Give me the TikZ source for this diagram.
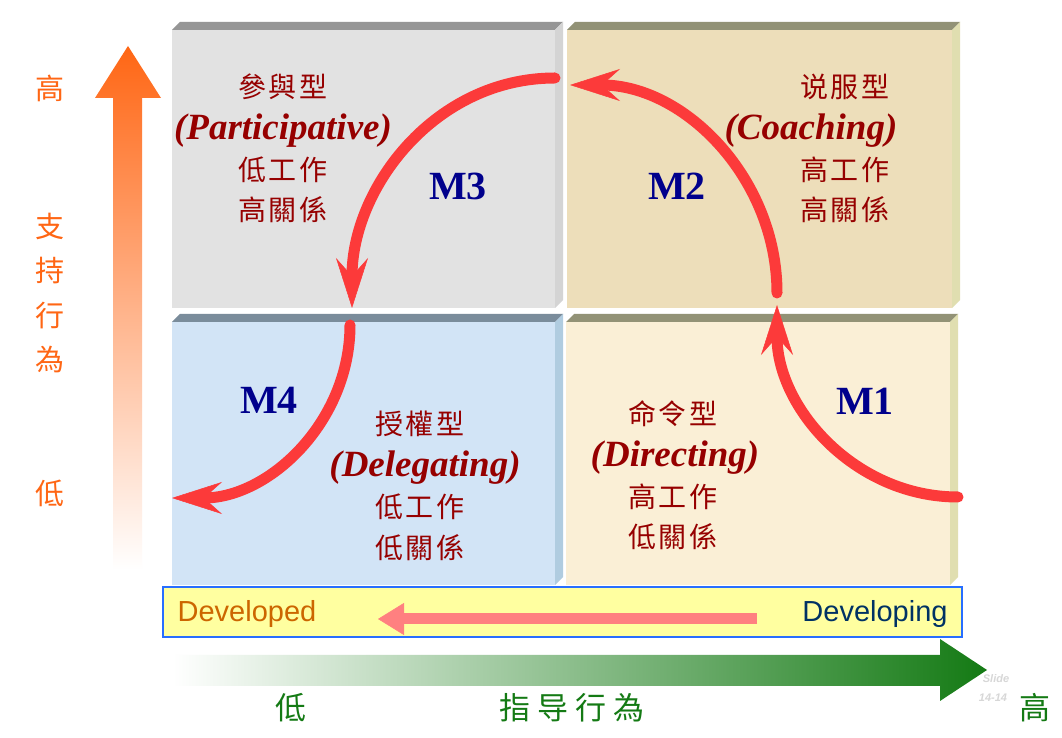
\documentclass[tikz,border=0pt]{standalone}
\usepackage{fontspec}
\setmainfont{Liberation Serif}
\newfontfamily\cjk[LetterSpace=10]{Noto Sans CJK TC}
\newfontfamily\cjkwide[LetterSpace=22]{Noto Sans CJK TC}
\newfontfamily\arialfont{Liberation Sans}
\usetikzlibrary{arrows.meta}
\definecolor{cgrayface}{RGB}{226,226,226}
\definecolor{cgraytop}{RGB}{150,150,150}
\definecolor{cgrayside}{RGB}{212,212,212}
\definecolor{cbeigeface}{RGB}{237,222,186}
\definecolor{colivetop}{RGB}{146,146,118}
\definecolor{colivesid}{RGB}{224,222,176}
\definecolor{cblueface}{RGB}{210,228,246}
\definecolor{cbluetop}{RGB}{122,140,155}
\definecolor{cblueside}{RGB}{176,204,224}
\definecolor{ccreamface}{RGB}{250,239,214}
\definecolor{cstyle}{RGB}{150,0,0}
\definecolor{cstage}{RGB}{0,0,140}
\definecolor{carrow}{RGB}{252,58,58}
\definecolor{cpink}{RGB}{255,128,128}
\definecolor{cbar}{RGB}{255,255,160}
\definecolor{cbarline}{RGB}{40,110,255}
\definecolor{cdeveloped}{RGB}{204,102,0}
\definecolor{cdeveloping}{RGB}{0,50,100}
\definecolor{corange}{RGB}{255,102,20}
\definecolor{cgreen}{RGB}{20,122,20}
\definecolor{cslide}{RGB}{215,215,215}
% face rectangle (x0,y0)-(x1,y1), then top and side bevels
\newcommand{\quadbox}[7]{%
  \fill[#5] (#1,#2) rectangle (#3,#4);
  \fill[#6] (#1,#4) -- (#1+8,#4+8) -- (#3+8,#4+8) -- (#3,#4) -- cycle;
  \fill[#7] (#3,#2) -- (#3,#4) -- (#3+8,#4+8) -- (#3+8,#2+8) -- cycle;
}
% name, x of chinese lines, x of english line, y of english line
\newcommand{\quadtext}[7]{%
  \node[cjklabel]  (#1-type) at (#2,#4+44) {#5};
  \node[stylename] (#1-name) at (#3,#4)    {(#6)};
  \node[cjklabel]  (#1-task) at (#2,#4-39) {#7};
}
\tikzset{
  cjklabel/.style={font=\cjk\fontsize{28}{30}\selectfont,text=cstyle,inner sep=0pt},
  stylename/.style={font=\bfseries\itshape\fontsize{37}{40}\selectfont,text=cstyle,inner sep=0pt},
  stagelabel/.style={font=\bfseries\fontsize{40}{44}\selectfont,text=cstage,inner sep=0pt},
  cyclearrow/.style={draw=carrow,line width=11pt,line cap=round,
    -{Stealth[length=50pt,width=32pt,inset=18pt,line width=0.5pt]}},
  sidelabel/.style={font=\cjk\fontsize{29}{30}\selectfont,text=corange,inner sep=0pt},
  bottomlabel/.style={font=\cjkwide\fontsize{31}{32}\selectfont,text=cgreen,inner sep=0pt},
  barlabel/.style={font=\arialfont\fontsize{29}{30}\selectfont,inner sep=0pt},
  slidelabel/.style={font=\arialfont\bfseries\itshape\fontsize{11}{12}\selectfont,text=cslide,inner sep=0pt},
}

\begin{document}
\begin{tikzpicture}[x=1pt,y=1pt]

  \useasboundingbox (0,0) rectangle (1062,738);
  \fill[white] (0,0) rectangle (1062,738);

  % ---------------- Quadrants ----------------
  \quadbox{172}{430}{555}{708}{cgrayface}{cgraytop}{cgrayside}
  \quadbox{567}{430}{952}{708}{cbeigeface}{colivetop}{colivesid}
  \quadbox{172}{153}{555}{416}{cblueface}{cbluetop}{cblueside}
  \quadbox{566}{153}{950}{416}{ccreamface}{colivetop}{colivesid}

  % ---------------- Quadrant texts ----------------
  \quadtext{tl}{283}{283}{607}{參與型}{Participative}{低工作}
  \node[cjklabel] (tl-rel) at (283,528) {高關係};
  \quadtext{tr}{845}{811}{607}{说服型}{Coaching}{高工作}
  \node[cjklabel] (tr-rel) at (845,528) {高關係};
  \quadtext{bl}{420}{425}{270}{授權型}{Delegating}{低工作}
  \node[cjklabel] (bl-rel) at (420,190) {低關係};
  \quadtext{br}{673}{675}{280}{命令型}{Directing}{高工作}
  \node[cjklabel] (br-rel) at (673,201) {低關係};

  \node[stagelabel] (m1) at (865,337) {M1};
  \node[stagelabel] (m2) at (677,552) {M2};
  \node[stagelabel] (m3) at (458,552) {M3};
  \node[stagelabel] (m4) at (269,338) {M4};

  % ---------------- Cycle arrows ----------------
  \coordinate (m1s) at (958,241);
  \coordinate (m1e) at (777,433);
  \coordinate (m2s) at (777,445);
  \coordinate (m2e) at (570,653);
  \coordinate (m3s) at (555,660);
  \coordinate (m3e) at (352,430);
  \coordinate (m4s) at (350,413);
  \coordinate (m4e) at (172,240);
  \draw[cyclearrow] (m1s) to[out=180,in=-90] (m1e);
  \draw[cyclearrow] (m2s) to[out=90,in=0] (m2e);
  \draw[cyclearrow] (m3s) to[out=180,in=90] (m3e);
  \draw[cyclearrow] (m4s) to[out=-90,in=0] (m4e);

  % ---------------- Readiness bar ----------------
  \draw[cbarline,fill=cbar,line width=1.2pt] (163,101) rectangle (962,151);
  \node[barlabel,text=cdeveloped] (developed) at (247,124) {Developed};
  \node[barlabel,text=cdeveloping] (developing) at (875,124) {Developing};
  \coordinate (bars) at (757,119);
  \coordinate (bare) at (378,119);
  \draw[cpink,line width=11pt,-{Triangle[length=26pt,width=32pt,line width=0.5pt]}] (bars) -- (bare);

  % ---------------- Support axis (left) ----------------
  \shade[top color=corange,bottom color=white]
    (113,168) -- (113,640) -- (95,640) -- (128,692) -- (161,640) -- (142,640) -- (142,168) -- cycle;
  \node[sidelabel] (shigh) at (50,650) {高};
  \node[sidelabel] (s1) at (50,512) {支};
  \node[sidelabel] (s2) at (50,467) {持};
  \node[sidelabel] (s3) at (50,422) {行};
  \node[sidelabel] (s4) at (50,378) {為};
  \node[sidelabel] (slow) at (50,245) {低};

  % ---------------- Directive axis (bottom) ----------------
  \shade[left color=white,middle color=cgreen!20,right color=cgreen]
    (173,52) -- (940,52) -- (940,37) -- (987,68) -- (940,99) -- (940,83) -- (173,83) -- cycle;
  \node[bottomlabel] (dlow) at (291,30) {低};
  \node[bottomlabel] (dname) at (572,30) {指导行為};
  \node[bottomlabel] (dhigh) at (1035,30) {高};

  \node[slidelabel] (slide) at (996,59) {Slide};
  \node[slidelabel] (slideno) at (993,40) {14-14};

\end{tikzpicture}
\end{document}
